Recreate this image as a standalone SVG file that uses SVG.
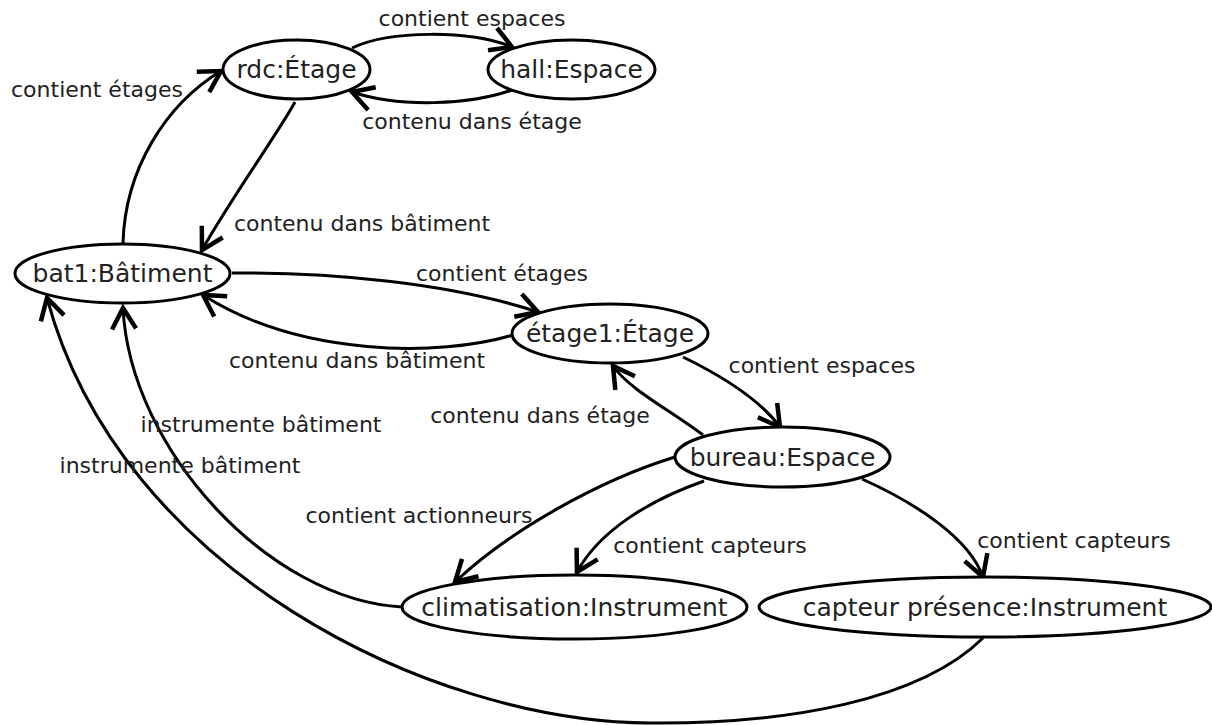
<svg xmlns="http://www.w3.org/2000/svg" width="1212" height="725" viewBox="0 0 1212 725">
<style>
.node ellipse{fill:#fff;stroke:#000;stroke-width:3}
.node text{font-family:"DejaVu Sans",sans-serif;font-size:25px;fill:#222;text-anchor:middle}
.edge path{fill:none;stroke:#000;stroke-width:3;marker-end:url(#arr)}
.lbl{font-family:"DejaVu Sans",sans-serif;font-size:22px;fill:#222;text-anchor:middle}
</style>
<defs>
<marker id="arr" markerUnits="userSpaceOnUse" markerWidth="30" markerHeight="30" viewBox="-16 -10 20 20" refX="0" refY="0" orient="auto">
<path d="M-14,-8 L0,0 L-14,8" fill="none" stroke="#000" stroke-width="3"/>
</marker>
</defs>
<g id="edges" class="edge">
<path d="M352,48 C390,30 470,30 512,47"/>
<path d="M512,90 C470,105 400,108 352,92"/>
<path d="M123,243 C125,170 165,105 221,71"/>
<path d="M295,102 C280,130 230,200 202,250"/>
<path d="M232,273 C330,272 450,283 538,312"/>
<path d="M513,335 C440,357 300,357 203,295"/>
<path d="M683,357 C720,375 760,400 780,427"/>
<path d="M703,435 C670,410 630,390 613,366"/>
<path d="M675,457 C600,480 510,530 455,582"/>
<path d="M704,481 C650,500 600,530 577,572"/>
<path d="M862,479 C920,505 970,540 983,577"/>
<path d="M402,607 C270,600 130,450 123,308"/>
<path d="M983,638 C920,700 790,724 650,723 C430,722 120,570 47,298"/>
</g>
<g id="labels">
<text class="lbl" x="472" y="26">contient espaces</text>
<text class="lbl" x="472" y="129">contenu dans étage</text>
<text class="lbl" x="97" y="97">contient étages</text>
<text class="lbl" x="362" y="231">contenu dans bâtiment</text>
<text class="lbl" x="502" y="281">contient étages</text>
<text class="lbl" x="357" y="368">contenu dans bâtiment</text>
<text class="lbl" x="822" y="373">contient espaces</text>
<text class="lbl" x="540" y="423">contenu dans étage</text>
<text class="lbl" x="419" y="523">contient actionneurs</text>
<text class="lbl" x="710" y="553">contient capteurs</text>
<text class="lbl" x="1074" y="548">contient capteurs</text>
<text class="lbl" x="261" y="432">instrumente bâtiment</text>
<text class="lbl" x="180" y="473">instrumente bâtiment</text>
</g>
<g id="rdc" class="node"><ellipse cx="296.5" cy="69.5" rx="73.5" ry="29.5"/><text x="296.5" y="78">rdc:Étage</text></g>
<g id="hall" class="node"><ellipse cx="571.5" cy="69.5" rx="83.5" ry="29.5"/><text x="571.5" y="78">hall:Espace</text></g>
<g id="bat1" class="node"><ellipse cx="122.5" cy="273.5" rx="107.5" ry="29.5"/><text x="122.5" y="282">bat1:Bâtiment</text></g>
<g id="etage1" class="node"><ellipse cx="610" cy="333.5" rx="98" ry="29.5"/><text x="610" y="342">étage1:Étage</text></g>
<g id="bureau" class="node"><ellipse cx="782.5" cy="457" rx="107.5" ry="30"/><text x="782.5" y="465.5">bureau:Espace</text></g>
<g id="climatisation" class="node"><ellipse cx="574.5" cy="607" rx="172.5" ry="32"/><text x="574.5" y="615.5">climatisation:Instrument</text></g>
<g id="capteur" class="node"><ellipse cx="985" cy="607" rx="226" ry="30"/><text x="985" y="615.5">capteur présence:Instrument</text></g>
</svg>
